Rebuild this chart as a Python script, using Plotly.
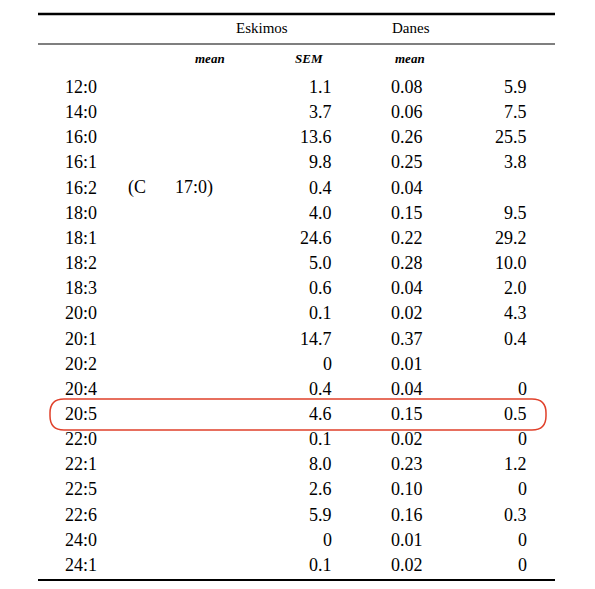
import plotly.graph_objects as go

labels = ["12:0","14:0","16:0","16:1","16:2","18:0","18:1","18:2","18:3","20:0",
          "20:1","20:2","20:4","20:5","22:0","22:1","22:5","22:6","24:0","24:1"]
eskimo_sem = ["1.1","3.7","13.6","9.8","0.4","4.0","24.6","5.0","0.6","0.1",
              "14.7","0","0.4","4.6","0.1","8.0","2.6","5.9","0","0.1"]
danes_mean = ["0.08","0.06","0.26","0.25","0.04","0.15","0.22","0.28","0.04","0.02",
              "0.37","0.01","0.04","0.15","0.02","0.23","0.10","0.16","0.01","0.02"]
last_col = ["5.9","7.5","25.5","3.8","","9.5","29.2","10.0","2.0","4.3",
            "0.4","","0","0.5","0","1.2","0","0.3","0","0"]
group_headers = ["Eskimos", "Danes"]
sub_headers = ["mean", "SEM", "mean"]
highlight_row = "20:5"

F = "Liberation Serif"
fig = go.Figure()
ann = []
def t(x, y, s, anchor="left", size=18, italic=False, bold=False):
    if italic: s = "<i>" + s + "</i>"
    if bold: s = "<b>" + s + "</b>"
    ann.append(dict(x=x, y=y, text=s, xanchor=anchor, yanchor="middle", showarrow=False,
                    font=dict(family=F, size=size, color="black")))

t(262, 28, group_headers[0], "center", 15)
t(411, 28, group_headers[1], "center", 15)
t(210, 58, sub_headers[0], "center", 13, italic=True, bold=True)
t(309, 58, sub_headers[1], "center", 13, italic=True, bold=True)
t(410, 58, sub_headers[2], "center", 13, italic=True, bold=True)

y0, dy = 87, 25.15
for i, lab in enumerate(labels):
    y = y0 + i * dy
    t(63, y, lab)
    if lab == "16:2":
        t(126, y, "(C")
        t(173, y, "17:0)")
    t(334, y, eskimo_sem[i], "right")
    t(389, y, danes_mean[i], "left")
    if last_col[i]:
        t(529, y, last_col[i], "right")

shapes = [
    dict(type="line", x0=38, x1=555, y0=14, y1=14, line=dict(color="black", width=2.5)),
    dict(type="line", x0=38, x1=555, y0=44, y1=44, line=dict(color="black", width=1.2)),
    dict(type="line", x0=38, x1=555, y0=580, y1=580, line=dict(color="black", width=2)),
]
hy = y0 + labels.index(highlight_row) * dy
r, xa, xb, ya, yb = 14, 50, 546, hy - 15, hy + 16
path = (f"M {xa+r},{ya} L {xb-r},{ya} Q {xb},{ya} {xb},{ya+r} L {xb},{yb-r} Q {xb},{yb} {xb-r},{yb} "
        f"L {xa+r},{yb} Q {xa},{yb} {xa},{yb-r} L {xa},{ya+r} Q {xa},{ya} {xa+r},{ya} Z")
shapes.append(dict(type="path", path=path, line=dict(color="#e0402a", width=1.5)))

fig.update_layout(width=595, height=589, margin=dict(l=0, r=0, t=0, b=0),
                  plot_bgcolor="white", paper_bgcolor="white",
                  xaxis=dict(range=[8, 603], visible=False, fixedrange=True),
                  yaxis=dict(range=[597, 8], visible=False, fixedrange=True),
                  annotations=ann, shapes=shapes, showlegend=False)
fig.write_html("out.html")
